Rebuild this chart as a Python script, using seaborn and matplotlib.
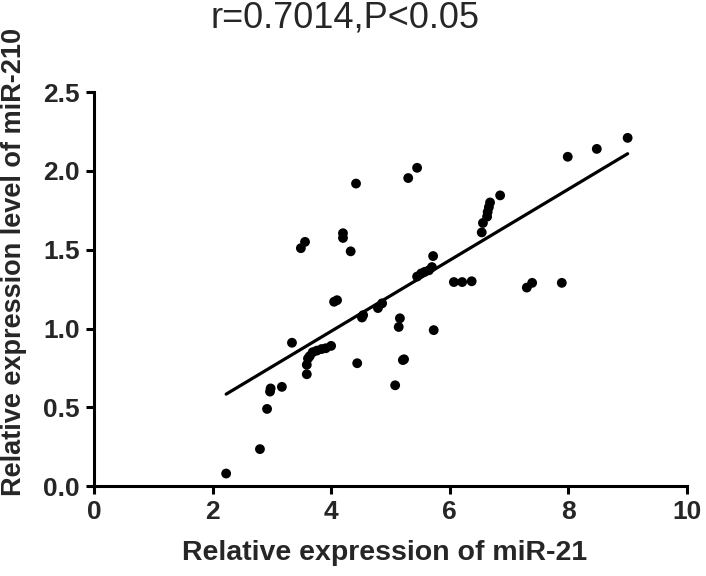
import matplotlib
matplotlib.use("Agg")
import matplotlib.pyplot as plt
import seaborn as sns
import pandas as pd

# Data
mir21 = [2.23, 2.80, 2.92, 2.97, 2.98, 3.17, 3.34, 3.49, 3.56, 3.59,
         3.59, 3.61, 3.64, 3.69, 3.76, 3.84, 3.91, 4.00, 4.05, 4.10,
         4.20, 4.20, 4.33, 4.42, 4.44, 4.52, 4.54, 4.79, 4.86, 5.08,
         5.14, 5.16, 5.21, 5.23, 5.30, 5.45, 5.45, 5.52, 5.58, 5.65,
         5.70, 5.72, 5.73, 6.07, 6.21, 6.37, 6.54, 6.56, 6.63, 6.64,
         6.66, 6.68, 6.85, 7.30, 7.39, 7.89, 7.99, 8.48, 9.00]
mir210 = [0.08, 0.235, 0.49, 0.60, 0.62, 0.63, 0.91, 1.51, 1.55, 0.71,
          0.77, 0.81, 0.825, 0.85, 0.86, 0.87, 0.875, 0.89, 1.17, 1.18,
          1.605, 1.575, 1.49, 1.92, 0.78, 1.07, 1.085, 1.13, 1.16, 0.64,
          1.01, 1.065, 0.80, 0.805, 1.955, 2.02, 1.33, 1.35, 1.36, 1.37,
          1.39, 1.46, 0.99, 1.295, 1.295, 1.30, 1.61, 1.67, 1.71, 1.74,
          1.77, 1.80, 1.845, 1.26, 1.29, 1.29, 2.09, 2.14, 2.21]

title = "r=0.7014,P<0.05"
xlabel = "Relative expression of miR-21"
ylabel = "Relative expression level of miR-210"
xticks = [0, 2, 4, 6, 8, 10]
yticks = [0.0, 0.5, 1.0, 1.5, 2.0, 2.5]

df = pd.DataFrame({"x": mir21, "y": mir210})

sns.set_style("ticks")
plt.rcParams["font.family"] = ["Liberation Sans", "DejaVu Sans"]

fig = plt.figure(figsize=(7.06, 5.76), dpi=100)
ax = fig.add_axes([0.133, 0.156, 0.840, 0.684])

sns.regplot(data=df, x="x", y="y", ax=ax, ci=None,
            scatter_kws=dict(s=50, color="black", edgecolor="none", alpha=1),
            line_kws=dict(color="black", lw=2.3))

ax.set_xlim(0, 10)
ax.set_ylim(0, 2.5)
ax.set_xticks(xticks)
ax.set_xticklabels([str(t) for t in xticks])
ax.set_yticks(yticks)
ax.set_yticklabels([f"{t:.1f}" for t in yticks])
for lab in ax.get_xticklabels() + ax.get_yticklabels():
    lab.set_fontweight("bold")
    lab.set_fontsize(19)
ax.tick_params(axis="both", direction="out", length=6, width=2.2, color="black", pad=4)
for side in ["top", "right"]:
    ax.spines[side].set_visible(False)
for side in ["left", "bottom"]:
    ax.spines[side].set_linewidth(2.2)
    ax.spines[side].set_color("black")
    ax.spines[side].set_capstyle("projecting")

ax.set_xlabel(xlabel, fontsize=20.5, fontweight="bold", va="center")
ax.set_ylabel(ylabel, fontsize=19.5, fontweight="bold", va="center")
ax.xaxis.set_label_coords(0.49, -0.17)
ax.yaxis.set_label_coords(-0.135, 0.569)
fig.text(0.489, 0.968, title, ha="center", va="center", fontsize=26)

fig.savefig("out.png", dpi=100)
